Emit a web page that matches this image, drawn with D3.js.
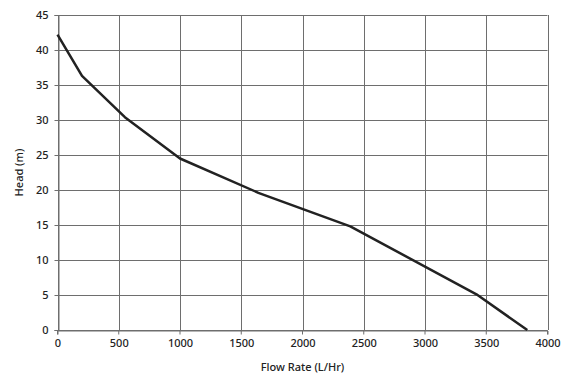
<!DOCTYPE html>
<html>
<head>
<script src="https://d3js.org/d3.v7.min.js"></script>
<style>
  body { margin: 0; background: #fff; }
  text { font-family: "Noto Sans", Lato, sans-serif; fill: #222; }
</style>
</head>
<body>
<svg id="canvas"></svg>
<script>
// pump curve
var flowRate = [0, 200, 550, 1000, 1640, 2390, 3420, 3835];
var head     = [42.2, 36.3, 30.4, 24.5, 19.6, 14.8, 5.1, 0];
var xTicks = [0, 500, 1000, 1500, 2000, 2500, 3000, 3500, 4000];
var yTicks = [0, 5, 10, 15, 20, 25, 30, 35, 40, 45];

var width = 575, height = 385;
var margin = {top: 15, right: 27.5, bottom: 55, left: 57.5};

var svg = d3.select("#canvas")
    .attr("width", width)
    .attr("height", height);

var x = d3.scaleLinear().domain([0, 4000]).range([margin.left, width - margin.right]);
var y = d3.scaleLinear().domain([0, 45]).range([height - margin.bottom, margin.top]);

var g = svg.append("g");
var gridColor = "#6e6e6e";

// grid
g.selectAll(".vgrid").data(xTicks).enter().append("line")
    .attr("x1", d => Math.round(x(d)) + 0.5).attr("x2", d => Math.round(x(d)) + 0.5)
    .attr("y1", y(45)).attr("y2", y(0))
    .attr("stroke", gridColor).attr("stroke-width", 1);
g.selectAll(".hgrid").data(yTicks).enter().append("line")
    .attr("x1", x(0)).attr("x2", x(4000))
    .attr("y1", d => Math.round(y(d)) + 0.5).attr("y2", d => Math.round(y(d)) + 0.5)
    .attr("stroke", gridColor).attr("stroke-width", 1);

// axes
var xAxis = g.append("g")
    .attr("transform", "translate(0," + (Math.round(y(0)) + 0.5) + ")")
    .call(d3.axisBottom(x).tickValues(xTicks).tickFormat(d3.format("d")).tickSize(4).tickPadding(5));
var yAxis = g.append("g")
    .attr("transform", "translate(" + (Math.round(x(0)) + 0.5) + ",0)")
    .call(d3.axisLeft(y).tickValues(yTicks).tickFormat(d3.format("d")).tickSize(4).tickPadding(6));

[xAxis, yAxis].forEach(function(a) {
  a.select(".domain").attr("stroke", gridColor);
  a.selectAll(".tick line").attr("stroke", gridColor);
  a.selectAll(".tick text")
    .style("font-family", "'Noto Sans', Lato, sans-serif")
    .style("font-size", "11px")
    .style("font-weight", "500")
    .attr("fill", "#222");
});
xAxis.selectAll(".tick line").attr("transform", "translate(-0.5,0)");

// curve
var line = d3.line()
    .x((d, i) => x(flowRate[i]))
    .y((d, i) => y(head[i]));
g.append("path")
    .datum(flowRate)
    .attr("d", line)
    .attr("fill", "none")
    .attr("stroke", "#222")
    .attr("stroke-width", 2.5)
    .attr("stroke-linejoin", "round");

// axis titles
svg.append("text")
    .text("Flow Rate (L/Hr)")
    .attr("x", (x(0) + x(4000)) / 2)
    .attr("y", 371)
    .attr("text-anchor", "middle")
    .style("font-size", "11px")
    .style("font-weight", "500");
svg.append("text")
    .text("Head (m)")
    .attr("transform", "translate(23," + ((y(0) + y(45)) / 2) + ") rotate(-90)")
    .attr("text-anchor", "middle")
    .style("font-size", "11px")
    .style("font-weight", "500");
</script>
</body>
</html>
